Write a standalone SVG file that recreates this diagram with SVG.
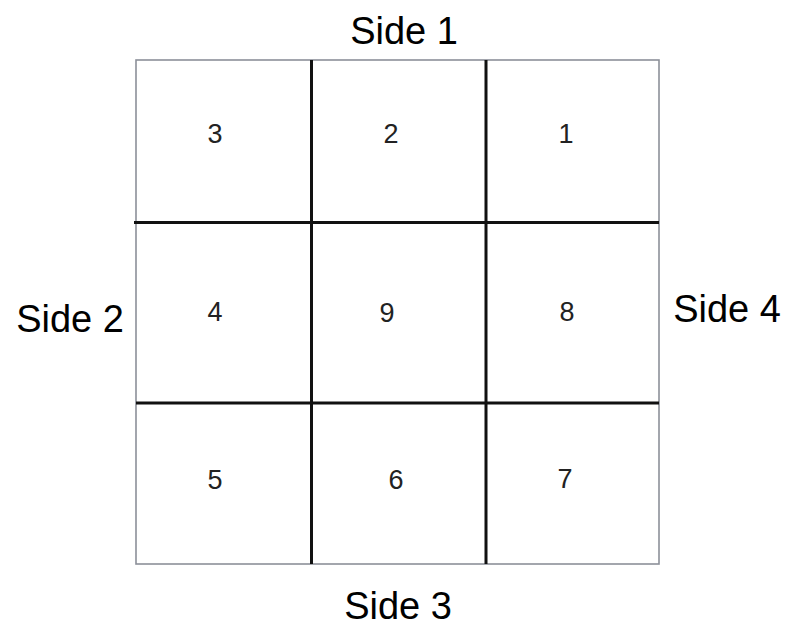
<svg xmlns="http://www.w3.org/2000/svg" width="785" height="628" viewBox="0 0 785 628">
<style>
.side{font-family:"Liberation Sans",Arial,sans-serif;font-size:38px;fill:#000;text-anchor:middle}
.num{font-family:"Liberation Sans",Arial,sans-serif;font-size:27px;fill:#222;text-anchor:middle}
.border{fill:none;stroke:#8c9099;stroke-width:1.6}
.div{stroke:#111;stroke-width:3}
</style>
<rect x="0" y="0" width="785" height="628" fill="#fff"/>
<g id="grid">
<rect class="border" x="136" y="60" width="523" height="504"/>
</g>
<g id="connectors">
<line class="div" x1="311.5" y1="60" x2="311.5" y2="564"/>
<line class="div" x1="486" y1="60" x2="486" y2="564"/>
<line class="div" x1="134" y1="222.5" x2="659" y2="222.5"/>
<line class="div" x1="136" y1="403" x2="659" y2="403"/>
</g>
<g id="cell3"><text class="num" x="215" y="143">3</text></g>
<g id="cell2"><text class="num" x="391" y="143">2</text></g>
<g id="cell1"><text class="num" x="566" y="143">1</text></g>
<g id="cell4"><text class="num" x="215" y="321">4</text></g>
<g id="cell9"><text class="num" x="387" y="322">9</text></g>
<g id="cell8"><text class="num" x="567" y="321">8</text></g>
<g id="cell5"><text class="num" x="215" y="489">5</text></g>
<g id="cell6"><text class="num" x="396" y="489">6</text></g>
<g id="cell7"><text class="num" x="565" y="488">7</text></g>
<g id="side1"><text class="side" x="404" y="44">Side 1</text></g>
<g id="side2"><text class="side" x="70" y="332">Side 2</text></g>
<g id="side3"><text class="side" x="398" y="619">Side 3</text></g>
<g id="side4"><text class="side" x="727" y="322">Side 4</text></g>
</svg>
